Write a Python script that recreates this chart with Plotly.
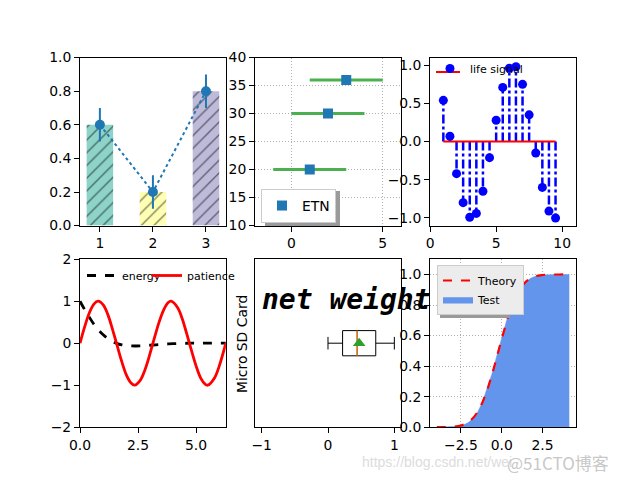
import plotly.graph_objects as go

# ---------------- data ----------------
# panel 1: hatched bars + error points
bar_x = [1, 2, 3]
bar_h = [0.6, 0.2, 0.8]
bar_colors = ["#8dd3c7", "#ffffb3", "#bebada"]
bar_err = [0.1, 0.1, 0.1]

# panel 2: horizontal error bars
etn_x = [1, 2, 3]
etn_y = [20, 30, 36]
etn_xerr = [2, 2, 2]

# panel 3: stem plot
stem_x = [1.0, 1.5, 2.0, 2.5, 3.0, 3.5, 4.0, 4.5, 5.0, 5.5, 6.0, 6.5, 7.0, 7.5, 8.0, 8.5, 9.0, 9.5]
stem_y = [0.54, 0.07, -0.42, -0.80, -0.99, -0.94, -0.65, -0.21, 0.28, 0.71, 0.96, 0.98, 0.75, 0.35, -0.15, -0.60, -0.91, -1.00]

# panel 4: two curves
energy_x = [0.0, 0.2, 0.4, 0.6, 0.8, 1.0, 1.2, 1.4, 1.6, 1.8, 2.0, 2.2, 2.4, 2.6, 2.8, 3.0, 3.4, 3.8, 4.2, 4.6, 5.0, 5.6, 6.28]
energy_y = [1.0, 0.80, 0.62, 0.45, 0.31, 0.20, 0.11, 0.04, -0.01, -0.04, -0.06, -0.065, -0.067, -0.064, -0.057, -0.049, -0.032, -0.018, -0.008, -0.001, 0.002, 0.003, 0.002]
patience_x = [0.0, 0.2, 0.4, 0.6, 0.785, 1.0, 1.2, 1.4, 1.571, 1.8, 2.0, 2.2, 2.356, 2.6, 2.8, 3.0, 3.142,
              3.4, 3.6, 3.8, 3.927, 4.2, 4.4, 4.6, 4.712, 5.0, 5.2, 5.4, 5.498, 5.8, 6.0, 6.283]
patience_y = [0.0, 0.39, 0.72, 0.93, 1.0, 0.91, 0.68, 0.33, 0.0, -0.44, -0.76, -0.95, -1.0, -0.88, -0.63, -0.28, 0.0,
              0.49, 0.79, 0.97, 1.0, 0.85, 0.59, 0.22, 0.0, -0.54, -0.83, -0.98, -1.0, -0.82, -0.54, 0.0]

# panel 5: box plot stats
box_q1 = [0.22]
box_median = [0.44]
box_q3 = [0.72]
box_low = [0.0]
box_high = [1.0]
box_mean = [0.47]
box_pos = [1]
box_title = "net weight"
box_ylabel = "Micro SD Card"

# panel 6: cumulative histogram + theory
theory_x = [-3.98, -3.5, -3.0, -2.5, -2.0, -1.5, -1.0, -0.5, 0.0, 0.5, 1.0, 1.5, 2.0, 2.5, 3.0, 3.5, 4.14]
theory_y = [0.0001, 0.0005, 0.0026, 0.011, 0.036, 0.097, 0.212, 0.382, 0.579, 0.758, 0.885, 0.955, 0.986, 0.9965, 0.9993, 0.9999, 1.0]
test_x = [-3.98, -3.5, -3.0, -2.7, -2.4, -2.1, -1.8, -1.5, -1.2, -0.9, -0.6, -0.3, 0.0, 0.3, 0.6, 0.9, 1.2,
          1.5, 1.8, 2.1, 2.4, 2.7, 3.0, 3.5, 4.14]
test_y = [0.0, 0.001, 0.003, 0.006, 0.013, 0.027, 0.052, 0.095, 0.16, 0.25, 0.35, 0.47, 0.59, 0.70, 0.79,
          0.865, 0.92, 0.955, 0.977, 0.99, 0.996, 0.998, 1.0, 1.0, 1.0]

# ---------------- layout geometry ----------------
cols = [[0.125, 0.3529], [0.3985, 0.6265], [0.6721, 0.9]]
rows = [[0.53, 0.88], [0.11, 0.46]]
FONT = "DejaVu Sans"
TS = 13.9

fig = go.Figure()

# panel 1
for xv, hv, cv in zip(bar_x, bar_h, bar_colors):
    fig.add_trace(go.Bar(x=[xv], y=[hv], width=0.5, marker=dict(color=cv, line=dict(width=0),
                         pattern=dict(shape="/", fgcolor="black", size=9, solidity=0.15)),
                         showlegend=False, xaxis="x", yaxis="y"))
fig.add_trace(go.Scatter(x=bar_x, y=bar_h, mode="lines+markers",
                         line=dict(color="#1f77b4", dash="dot", width=2),
                         marker=dict(color="#1f77b4", size=10),
                         error_y=dict(type="data", array=bar_err, color="#1f77b4", thickness=2, width=0),
                         showlegend=False, xaxis="x", yaxis="y"))

# panel 2
fig.add_trace(go.Scatter(x=etn_x, y=etn_y, mode="markers", name="ETN",
                         marker=dict(symbol="square", color="#1f77b4", size=10),
                         error_x=dict(type="data", array=etn_xerr, color="#4caf50", thickness=3, width=0),
                         legend="legend", xaxis="x2", yaxis="y2"))

# panel 3
sx, sy = [], []
for xv, yv in zip(stem_x, stem_y):
    sx += [xv, xv, None]
    sy += [0, yv, None]
fig.add_trace(go.Scatter(x=sx, y=sy, mode="lines", line=dict(color="blue", dash="dashdot", width=2.5),
                         showlegend=False, xaxis="x3", yaxis="y3"))
fig.add_trace(go.Scatter(x=[stem_x[0], stem_x[-1]], y=[0, 0], mode="lines", line=dict(color="red", width=2),
                         showlegend=False, xaxis="x3", yaxis="y3"))
fig.add_trace(go.Scatter(x=stem_x, y=stem_y, mode="markers", name="life signal",
                         marker=dict(color="blue", size=9), legend="legend2", xaxis="x3", yaxis="y3"))

# panel 4
fig.add_trace(go.Scatter(x=energy_x, y=energy_y, mode="lines", name="energy", line_shape="spline",
                         line=dict(color="black", dash="dash", width=2.8), legend="legend3", xaxis="x4", yaxis="y4"))
fig.add_trace(go.Scatter(x=patience_x, y=patience_y, mode="lines", name="patience", line_shape="spline",
                         line=dict(color="red", width=2.8), legend="legend3", xaxis="x4", yaxis="y4"))
# empty spacer entry so the compact legend row is not clipped
fig.add_trace(go.Scatter(x=[None], y=[None], mode="lines", name=" ", line=dict(color="rgba(0,0,0,0)", width=0),
                         legend="legend3", xaxis="x4", yaxis="y4", hoverinfo="skip"))

# panel 5
fig.add_trace(go.Box(y=box_pos, q1=box_q1, median=box_median, q3=box_q3, lowerfence=box_low,
                     upperfence=box_high, orientation="h", width=0.15, whiskerwidth=0.5,
                     fillcolor="rgba(255,255,255,0)", line=dict(color="black", width=1),
                     showlegend=False, xaxis="x5", yaxis="y5"))
fig.add_trace(go.Scatter(x=[box_median[0], box_median[0]], y=[box_pos[0] - 0.075, box_pos[0] + 0.075],
                         mode="lines", line=dict(color="#ff7f0e", width=1.2), showlegend=False,
                         xaxis="x5", yaxis="y5"))
fig.add_trace(go.Scatter(x=box_mean, y=box_pos, mode="markers",
                         marker=dict(symbol="triangle-up", color="#2ca02c", size=11), showlegend=False,
                         xaxis="x5", yaxis="y5"))

# panel 6
fig.add_trace(go.Scatter(x=test_x, y=test_y, mode="lines", fill="tozeroy", name="Test",
                         fillcolor="#6495ED", line=dict(color="#6495ED", width=0.5),
                         legend="legend4", xaxis="x6", yaxis="y6"))
fig.add_trace(go.Scatter(x=theory_x, y=theory_y, mode="lines", line_shape="spline", name="Theory",
                         line=dict(color="red", dash="dash", width=2.2), legend="legend4", xaxis="x6", yaxis="y6"))


def ax(domain, anchor, rng, **kw):
    d = dict(domain=domain, anchor=anchor, range=rng, showline=True, mirror=True, linecolor="black",
             linewidth=1, ticks="outside", ticklen=5, tickcolor="black", showgrid=False, zeroline=False,
             automargin=False, tickfont=dict(family=FONT, size=TS, color="black"))
    d.update(kw)
    return d


grid = dict(showgrid=True, gridcolor="#b0b0b0", griddash="1px,2px", gridwidth=1)

fig.update_layout(
    width=640, height=480, margin=dict(l=0, r=0, t=0, b=0, pad=0, autoexpand=False),
    paper_bgcolor="white", plot_bgcolor="white", barmode="overlay",
    font=dict(family=FONT, size=TS, color="black"),
    xaxis=ax(cols[0], "y", [0.625, 3.375], tickvals=[1, 2, 3]),
    yaxis=ax(rows[0], "x", [0, 1], tickvals=[0, 0.2, 0.4, 0.6, 0.8, 1.0], tickformat=".1f"),
    xaxis2=ax(cols[1], "y2", [-2, 6], tickvals=[0, 5], **grid),
    yaxis2=ax(rows[0], "x2", [10, 40], tickvals=[10, 15, 20, 25, 30, 35, 40], **grid),
    xaxis3=ax(cols[2], "y3", [0, 11.05], tickvals=[0, 5, 10]),
    yaxis3=ax(rows[0], "x3", [-1.1, 1.1], tickvals=[-1, -0.5, 0, 0.5, 1], tickformat=".1f"),
    xaxis4=ax(cols[0], "y4", [0, 6.283], tickvals=[0, 2.5, 5.0], tickformat=".1f"),
    yaxis4=ax(rows[1], "x4", [-2, 2], tickvals=[-2, -1, 0, 1, 2]),
    xaxis5=ax(cols[1], "y5", [-1.1, 1.1], tickvals=[-1, 0, 1]),
    yaxis5=ax(rows[1], "x5", [0.5, 1.5], showticklabels=False, ticks=""),
    xaxis6=ax(cols[2], "y6", [-4.39, 4.55], tickvals=[-2.5, 0, 2.5], tickformat=".1f", **grid),
    yaxis6=ax(rows[1], "x6", [0, 1.1], tickvals=[0, 0.2, 0.4, 0.6, 0.8, 1.0], tickformat=".1f", **grid),
    legend=dict(x=261 / 640, y=1 - 223 / 480, xanchor="left", yanchor="bottom",
                bgcolor="white", bordercolor="#cccccc", borderwidth=1,
                font=dict(family=FONT, size=TS), itemwidth=30),
    legend2=dict(x=430 / 640, y=1 - 54 / 480, xanchor="left", yanchor="top", bgcolor="rgba(0,0,0,0)",
                 font=dict(family=FONT, size=11), itemwidth=30),
    legend3=dict(x=82 / 640, y=1 - 261 / 480, xanchor="left", yanchor="top", orientation="h",
                 bgcolor="rgba(0,0,0,0)", font=dict(family=FONT, size=11), itemwidth=30,
                 entrywidth=20),
    legend4=dict(x=437 / 640, y=1 - 265 / 480, xanchor="left", yanchor="top",
                 bgcolor="#ececec", bordercolor="#cccccc", borderwidth=1,
                 font=dict(family=FONT, size=11), itemwidth=30, traceorder="reversed"),
)

# legend shadows and stem-legend baseline sample
fig.add_shape(type="rect", xref="paper", yref="paper", x0=265 / 640, x1=340 / 640, y0=1 - 226 / 480,
              y1=1 - 191 / 480, fillcolor="#9a9a9a", line=dict(width=0), layer="above")
fig.add_shape(type="rect", xref="paper", yref="paper", x0=440 / 640, x1=510 / 640, y0=1 - 318 / 480,
              y1=1 - 268 / 480, fillcolor="#9a9a9a", line=dict(width=0), layer="above")
fig.add_shape(type="line", xref="paper", yref="paper", x0=436 / 640, x1=460 / 640, y0=1 - 72 / 480,
              y1=1 - 72 / 480, line=dict(color="red", width=2), layer="above")

fig.add_annotation(x=-1.02, y=1.26, xref="x5", yref="y5", text=box_title, showarrow=False,
                   xanchor="left", yanchor="middle",
                   font=dict(family="DejaVu Sans Mono", size=28, color="black", weight="bold", style="italic"))
fig.add_annotation(x=241.5 / 640, y=1 - 344.5 / 480, xref="paper", yref="paper", text=box_ylabel,
                   showarrow=False, textangle=-90, xanchor="center", yanchor="middle",
                   font=dict(family=FONT, size=TS, color="black"))

# watermark
fig.add_annotation(x=360 / 640, y=1 - 462 / 480, xref="paper", yref="paper", text="https://blog.csdn.net/wei",
                   showarrow=False, xanchor="left", yanchor="middle",
                   font=dict(family="Liberation Sans", size=14, color="#dcdcdc"))
fig.add_annotation(x=505 / 640, y=1 - 462 / 480, xref="paper", yref="paper", text="@51CTO博客",
                   showarrow=False, xanchor="left", yanchor="middle",
                   font=dict(family="Noto Sans CJK SC", size=17, color="#c8c8c8"))

fig.write_html("out.html", config={"displayModeBar": False},
               post_script="document.body.style.margin='0';document.body.style.overflow='hidden';")
